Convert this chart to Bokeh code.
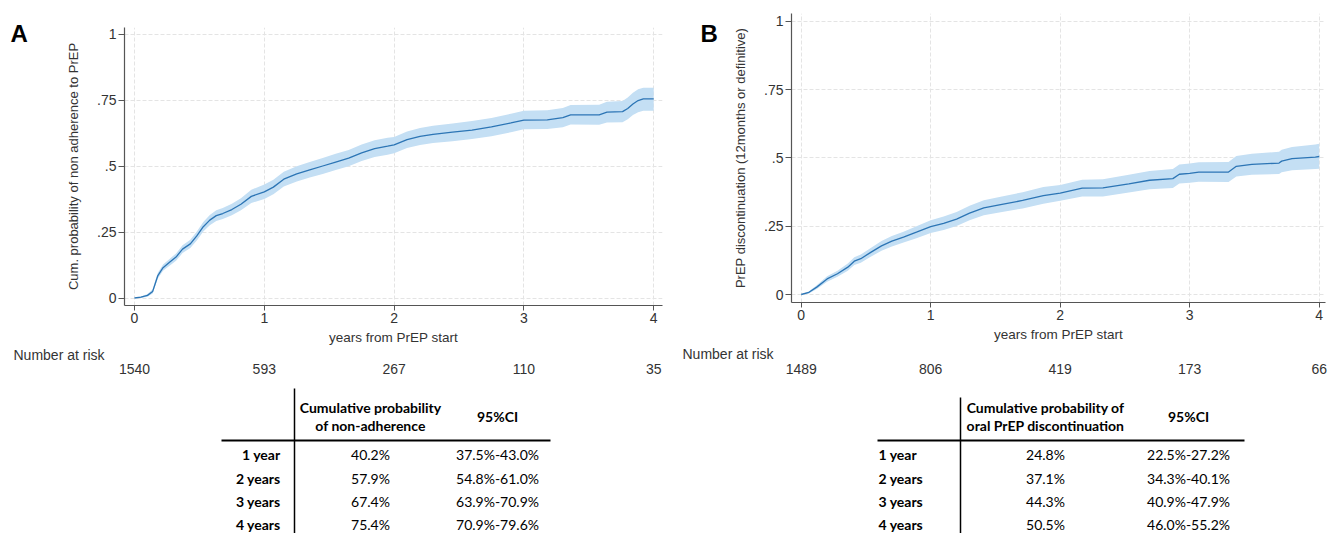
from bokeh.plotting import figure
from bokeh.models import Range1d, FixedTicker, ColumnDataSource
from bokeh.layouts import row, column
from bokeh.core.properties import value
from bokeh.embed import file_html
from bokeh.resources import INLINE

# ---------------- data ----------------
panel_letters = ["A", "B"]
x_ticks = [0, 1, 2, 3, 4]
y_ticks = [0, 0.25, 0.5, 0.75, 1]
y_tick_labels = ["0", ".25", ".5", ".75", "1"]
x_label = "years from PrEP start"
risk_label = "Number at risk"

# Panel A: cumulative probability of non adherence
a_t = [0, 0.05, 0.10, 0.14, 0.16, 0.18, 0.22, 0.27, 0.32, 0.37, 0.43, 0.48, 0.53, 0.58, 0.63, 0.68,
       0.75, 0.82, 0.90, 1.00, 1.07, 1.15, 1.25, 1.35, 1.45, 1.55, 1.65, 1.75, 1.85, 1.95, 2.00,
       2.10, 2.20, 2.30, 2.45, 2.60, 2.75, 2.90, 3.00, 3.18, 3.30, 3.36, 3.58, 3.64, 3.76, 3.80,
       3.84, 3.88, 3.92, 4.00]
a_est = [0, 0.003, 0.010, 0.025, 0.055, 0.085, 0.115, 0.135, 0.155, 0.185, 0.205, 0.235, 0.270, 0.295,
         0.312, 0.320, 0.335, 0.355, 0.385, 0.402, 0.420, 0.450, 0.470, 0.485, 0.500, 0.515, 0.530,
         0.550, 0.566, 0.575, 0.580, 0.600, 0.612, 0.620, 0.628, 0.636, 0.648, 0.663, 0.674, 0.675,
         0.683, 0.694, 0.694, 0.704, 0.706, 0.718, 0.735, 0.748, 0.754, 0.754]
a_lo = [0, 0.000, 0.005, 0.017, 0.045, 0.074, 0.103, 0.122, 0.141, 0.170, 0.189, 0.218, 0.252, 0.276,
        0.292, 0.299, 0.313, 0.332, 0.360, 0.375, 0.393, 0.422, 0.441, 0.456, 0.470, 0.485, 0.499,
        0.519, 0.534, 0.543, 0.548, 0.568, 0.580, 0.587, 0.594, 0.602, 0.613, 0.628, 0.639, 0.640,
        0.647, 0.657, 0.656, 0.665, 0.666, 0.677, 0.693, 0.704, 0.709, 0.709]
a_hi = [0, 0.006, 0.015, 0.033, 0.065, 0.096, 0.127, 0.148, 0.169, 0.200, 0.221, 0.252, 0.288, 0.314,
        0.332, 0.341, 0.357, 0.378, 0.410, 0.430, 0.448, 0.478, 0.499, 0.515, 0.530, 0.546, 0.561,
        0.581, 0.598, 0.607, 0.610, 0.631, 0.644, 0.652, 0.661, 0.670, 0.682, 0.698, 0.709, 0.711,
        0.720, 0.731, 0.732, 0.743, 0.746, 0.759, 0.777, 0.791, 0.796, 0.796]
a_risk = ["1540", "593", "267", "110", "35"]
a_ylabel = "Cum. probability of non adherence to PrEP"

# Panel B: PrEP discontinuation
b_t = [0, 0.06, 0.12, 0.20, 0.28, 0.36, 0.41, 0.46, 0.54, 0.62, 0.70, 0.79, 0.89, 1.00, 1.10, 1.20,
       1.30, 1.41, 1.54, 1.71, 1.87, 2.00, 2.17, 2.33, 2.53, 2.69, 2.87, 2.92, 3.00, 3.07, 3.30,
       3.36, 3.48, 3.69, 3.71, 3.79, 3.97, 4.00]
b_est = [0, 0.008, 0.027, 0.057, 0.076, 0.100, 0.122, 0.131, 0.155, 0.178, 0.195, 0.210, 0.228, 0.248,
         0.260, 0.276, 0.298, 0.317, 0.329, 0.344, 0.362, 0.371, 0.389, 0.390, 0.405, 0.418, 0.424,
         0.440, 0.443, 0.448, 0.448, 0.469, 0.476, 0.481, 0.488, 0.497, 0.503, 0.505]
b_lo = [0, 0.004, 0.020, 0.047, 0.065, 0.087, 0.108, 0.116, 0.139, 0.160, 0.176, 0.190, 0.206, 0.225,
        0.236, 0.251, 0.272, 0.290, 0.301, 0.315, 0.332, 0.343, 0.359, 0.359, 0.373, 0.385, 0.390,
        0.406, 0.409, 0.413, 0.412, 0.432, 0.438, 0.441, 0.447, 0.455, 0.459, 0.460]
b_hi = [0, 0.012, 0.034, 0.067, 0.087, 0.113, 0.136, 0.146, 0.171, 0.196, 0.214, 0.230, 0.250, 0.272,
        0.285, 0.302, 0.325, 0.345, 0.358, 0.374, 0.393, 0.401, 0.420, 0.422, 0.438, 0.452, 0.459,
        0.476, 0.479, 0.484, 0.485, 0.507, 0.515, 0.522, 0.530, 0.540, 0.549, 0.552]
b_risk = ["1489", "806", "419", "173", "66"]
b_ylabel = "PrEP discontinuation (12months or definitive)"

# Tables
row_labels = ["1 year", "2 years", "3 years", "4 years"]
a_header = ["Cumulative probability", "of non-adherence"]
a_prob = ["40.2%", "57.9%", "67.4%", "75.4%"]
a_ci = ["37.5%-43.0%", "54.8%-61.0%", "63.9%-70.9%", "70.9%-79.6%"]
b_header = ["Cumulative probability of", "oral PrEP discontinuation"]
b_prob = ["24.8%", "37.1%", "44.3%", "50.5%"]
b_ci = ["22.5%-27.2%", "34.3%-40.1%", "40.9%-47.9%", "46.0%-55.2%"]
ci_header = "95%CI"

# ---------------- style / layout ----------------
AX_FONT = "Liberation Sans"
TB_FONT = "Lato"
LINE_COLOR = "#2c75b5"
BAND_COLOR = "#c4dff4"
GRID_COLOR = "#e4e4e4"
AXIS_COLOR = "#555555"
TEXT_COLOR = "#333333"

TOP_H = 347
BOT_H = 186
SPLIT = TOP_H
BOTTOM = TOP_H + BOT_H


def bare(width, height, x0, y_top, y_bottom):
    p = figure(width=width, height=height, x_range=Range1d(x0, x0 + width),
               y_range=Range1d(y_bottom, y_top), output_backend="svg", toolbar_location=None,
               min_border=0, x_axis_location=None, y_axis_location=None)
    p.grid.visible = False
    p.outline_line_color = None
    return p


def letter_fig(width, x0, letter, letter_x):
    p = bare(width, TOP_H, x0, 0, TOP_H)
    p.text(x=[letter_x], y=[33], text=[letter], text_align="left", text_baseline="alphabetic",
           text_font=value(AX_FONT), text_font_size="24px", text_font_style="bold",
           text_color="black")
    return p


def km_top(width, left, frame_left, frame_right, frame_top, frame_bot,
           x0_px, px_per_year, y0_px, px_per_unit, t, est, lo, hi, ylabel):
    xr = Range1d((frame_left - x0_px) / px_per_year, (frame_right - x0_px) / px_per_year)
    yr = Range1d((y0_px - frame_bot) / px_per_unit, (y0_px - frame_top) / px_per_unit)
    p = figure(width=width, height=TOP_H, x_range=xr, y_range=yr,
               output_backend="svg", toolbar_location=None,
               min_border_left=round(frame_left - left),
               min_border_right=round(left + width - frame_right),
               min_border_top=round(frame_top),
               min_border_bottom=round(TOP_H - frame_bot))
    p.outline_line_color = None

    src = ColumnDataSource(dict(t=t, est=est, lo=lo, hi=hi))
    p.varea(x="t", y1="lo", y2="hi", source=src, fill_color=BAND_COLOR, fill_alpha=1.0)
    p.line(x="t", y="est", source=src, line_color=LINE_COLOR, line_width=1.3)

    for ax in (p.xaxis[0], p.yaxis[0]):
        ax.axis_line_color = AXIS_COLOR
        ax.axis_line_width = 1.2
        ax.major_tick_line_color = AXIS_COLOR
        ax.major_tick_in = 0
        ax.minor_tick_line_color = None
        ax.major_label_text_font = AX_FONT
        ax.major_label_text_font_size = "14px"
        ax.major_label_text_color = TEXT_COLOR
        ax.axis_label_text_font = AX_FONT
        ax.axis_label_text_font_style = "normal"
        ax.axis_label_text_color = TEXT_COLOR

    p.xaxis.ticker = FixedTicker(ticks=x_ticks)
    p.xaxis.major_tick_out = 5
    p.xaxis.major_label_standoff = 2
    p.xaxis.axis_label = x_label
    p.xaxis.axis_label_text_font_size = "13.5px"
    p.xaxis.axis_label_standoff = 4

    p.yaxis.ticker = FixedTicker(ticks=y_ticks)
    p.yaxis.major_label_overrides = {v: s for v, s in zip(y_ticks, y_tick_labels)}
    p.yaxis.major_tick_out = 6
    p.yaxis.major_label_standoff = 2
    p.yaxis.major_label_orientation = "horizontal"
    p.yaxis.axis_label = ylabel
    p.yaxis.axis_label_text_font_size = "13px"
    p.yaxis.axis_label_standoff = 13

    for g in (p.xgrid[0], p.ygrid[0]):
        g.grid_line_color = GRID_COLOR
        g.grid_line_dash = "4 2"
        g.grid_line_width = 1
    return p


def km_bottom(width, left, x0_px, px_per_year, risk, risk_label_x, risk_label_y, header, prob, ci,
              vline_x, vline_top, hline_x0, hline_x1, label_x, label_align, prob_x, ci_x):
    xr = Range1d((left - x0_px) / px_per_year, (left + width - x0_px) / px_per_year)
    p = figure(width=width, height=BOT_H, x_range=xr, y_range=Range1d(BOTTOM, SPLIT),
               output_backend="svg", toolbar_location=None, min_border=0,
               x_axis_location=None, y_axis_location=None)
    p.extra_x_ranges = {"px": Range1d(left, left + width)}
    p.grid.visible = False
    p.outline_line_color = None

    # number at risk row, placed through the year scale
    p.text(x=x_ticks, y=368, text=risk, text_align="center", text_baseline="middle",
           text_font=value(AX_FONT), text_font_size="14px", text_color=TEXT_COLOR)
    p.text(x=[risk_label_x], y=[risk_label_y], text=[risk_label], x_range_name="px",
           text_align="left", text_baseline="middle",
           text_font=value(AX_FONT), text_font_size="14px", text_color=TEXT_COLOR)

    # table rules
    p.segment(x0=[vline_x], y0=[vline_top], x1=[vline_x], y1=[BOTTOM], x_range_name="px",
              line_color="black", line_width=1.5)
    p.segment(x0=[hline_x0], y0=[440], x1=[hline_x1], y1=[440], x_range_name="px",
              line_color="black", line_width=2)

    tb = dict(text_font=value(TB_FONT), text_font_size="14px", text_color="black",
              text_baseline="middle", x_range_name="px")
    p.text(x=[prob_x, prob_x], y=[407, 425], text=header, text_align="center",
           text_font_style="bold", **tb)
    p.text(x=[ci_x], y=[416], text=[ci_header], text_align="center", text_font_style="bold", **tb)
    rows_y = [454, 478, 501, 524]
    p.text(x=[label_x] * 4, y=rows_y, text=row_labels, text_align=label_align,
           text_font_style="bold", **tb)
    p.text(x=[prob_x] * 4, y=rows_y, text=prob, text_align="center", **tb)
    p.text(x=[ci_x] * 4, y=rows_y, text=ci, text_align="center", **tb)
    return p


A_LEFT, A_W = 0, 672
B_LEFT, B_W = 672, 656
LET_A_W = 30
LET_B_W = 48

letA = letter_fig(LET_A_W, A_LEFT, panel_letters[0], 10)
fa = km_top(A_W - LET_A_W, A_LEFT + LET_A_W, 124, 662, 27, 305, 134, 129.8, 297.5, 264.0,
            a_t, a_est, a_lo, a_hi, a_ylabel)
la = km_bottom(A_W, A_LEFT, 134, 129.8, a_risk, 13, 354, a_header, a_prob, a_ci,
               294, 388, 221, 550, 280, "right", 370, 497)

letB = letter_fig(LET_B_W, B_LEFT, panel_letters[1], 700)
fb = km_top(B_W - LET_B_W, B_LEFT + LET_B_W, 791, 1325, 13, 302, 800.7, 129.5, 294.0, 273.3,
            b_t, b_est, b_lo, b_hi, b_ylabel)
lb = km_bottom(B_W, B_LEFT, 800.7, 129.5, b_risk, 682, 353, b_header, b_prob, b_ci,
               960, 397, 877, 1244, 878, "left", 1045, 1188)

top_row = row(column(letA), column(fa), column(letB), column(fb))
bottom_row = row(column(la), column(lb))
layout = column(top_row, bottom_row)

open("out.html", "w").write(file_html(layout, INLINE))
